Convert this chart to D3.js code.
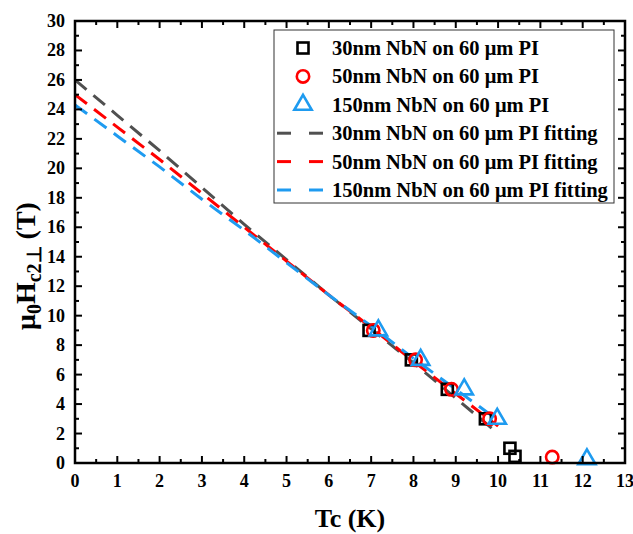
<!DOCTYPE html>
<html>
<head>
<meta charset="utf-8">
<script src="https://cdn.jsdelivr.net/npm/d3@7"></script>
<style>
  body { margin: 0; background: #fff; }
  text { font-family: "Liberation Serif", "Times New Roman", serif; font-weight: bold; }
</style>
</head>
<body>
<div class="container"></div>
<script>
const width = 633;
const height = 534;
const margin = { top: 21, right: 8, bottom: 71, left: 75 };

// measured points
const tc30 = [6.95, 7.95, 8.8, 9.7, 10.28, 10.4];
const h30 = [9, 7, 5, 3, 1, 0.45];
const tc50 = [7.05, 8.05, 8.9, 9.8, 11.28];
const h50 = [9, 7, 5, 3, 0.4];
const tc150 = [7.17, 8.17, 9.2, 9.98, 12.1];
const h150 = [9, 7, 5, 3, 0.25];

// fitting curves read at integer Tc
const fitT = [0, 1, 2, 3, 4, 5, 6, 7, 8, 9, 10];
const fit30 = [26, 23.6, 21.2, 18.7, 16.2, 13.8, 11.4, 9.1, 6.8, 4.4, 2.0];
const fit50 = [25, 22.8, 20.6, 18.3, 16.0, 13.7, 11.4, 9.2, 6.9, 4.7, 2.5];
const fit150 = [24.3, 22.2, 20.1, 17.9, 15.8, 13.6, 11.4, 9.3, 7.1, 5.0, 2.9];

const xTicks = d3.range(0, 14, 1);
const yTicks = d3.range(0, 31, 2);

const cBlack = '#000000';
const cGray = '#505050';
const cRed = '#ff0000';
const cBlue = '#1e9bf0';

const xScale = d3.scaleLinear().domain([0, 13]).range([margin.left, width - margin.right]);
const yScale = d3.scaleLinear().domain([0, 30]).range([height - margin.bottom, margin.top]);

const svg = d3.select('.container')
  .append('svg')
  .attr('width', width)
  .attr('height', height);

// fitting lines
const line = d3.line().x(d => xScale(d[0])).y(d => yScale(d[1]));
[[fit30, cGray], [fit50, cRed], [fit150, cBlue]].forEach(([vals, col]) => {
  svg.append('path')
    .datum(fitT.map((t, i) => [t, vals[i]]))
    .attr('d', line)
    .attr('fill', 'none')
    .attr('stroke', col)
    .attr('stroke-width', 3)
    .attr('stroke-dasharray', '15,9');
});

// markers
const triPath = d3.symbol().type(d3.symbolTriangle).size(130);
function drawSquare(g, x, y) {
  g.append('rect')
    .attr('x', x - 5.5).attr('y', y - 5.5)
    .attr('width', 11).attr('height', 11)
    .attr('fill', 'none').attr('stroke', cBlack).attr('stroke-width', 2.6);
}
function drawCircle(g, x, y) {
  g.append('circle')
    .attr('cx', x).attr('cy', y).attr('r', 6.2)
    .attr('fill', 'none').attr('stroke', cRed).attr('stroke-width', 2.6);
}
function drawTri(g, x, y) {
  g.append('path')
    .attr('d', triPath())
    .attr('transform', `translate(${x},${y})`)
    .attr('fill', 'none').attr('stroke', cBlue).attr('stroke-width', 2.6);
}

const marks = svg.append('g');
tc30.forEach((t, i) => drawSquare(marks, xScale(t), yScale(h30[i])));
tc50.forEach((t, i) => drawCircle(marks, xScale(t), yScale(h50[i])));
tc150.forEach((t, i) => drawTri(marks, xScale(t), yScale(h150[i])));

// axes with inward ticks on all four sides
const x0 = margin.left, x1 = width - margin.right;
const y0 = height - margin.bottom, y1 = margin.top;
const axes = svg.append('g').attr('stroke', '#000');

const xMinor = d3.range(0.5, 13, 1);
const yMinor = d3.range(1, 30, 2);
xTicks.forEach(t => {
  axes.append('line').attr('x1', xScale(t)).attr('x2', xScale(t)).attr('y1', y0).attr('y2', y0 - 7).attr('stroke-width', 2);
  axes.append('line').attr('x1', xScale(t)).attr('x2', xScale(t)).attr('y1', y1).attr('y2', y1 + 7).attr('stroke-width', 2);
});
xMinor.forEach(t => {
  axes.append('line').attr('x1', xScale(t)).attr('x2', xScale(t)).attr('y1', y0).attr('y2', y0 - 4).attr('stroke-width', 2);
  axes.append('line').attr('x1', xScale(t)).attr('x2', xScale(t)).attr('y1', y1).attr('y2', y1 + 4).attr('stroke-width', 2);
});
yTicks.forEach(v => {
  axes.append('line').attr('y1', yScale(v)).attr('y2', yScale(v)).attr('x1', x0).attr('x2', x0 + 7).attr('stroke-width', 2);
  axes.append('line').attr('y1', yScale(v)).attr('y2', yScale(v)).attr('x1', x1).attr('x2', x1 - 7).attr('stroke-width', 2);
});
yMinor.forEach(v => {
  axes.append('line').attr('y1', yScale(v)).attr('y2', yScale(v)).attr('x1', x0).attr('x2', x0 + 4).attr('stroke-width', 2);
  axes.append('line').attr('y1', yScale(v)).attr('y2', yScale(v)).attr('x1', x1).attr('x2', x1 - 4).attr('stroke-width', 2);
});
axes.append('rect')
  .attr('x', x0).attr('y', y1)
  .attr('width', x1 - x0).attr('height', y0 - y1)
  .attr('fill', 'none').attr('stroke-width', 2.5);

// tick labels
svg.append('g').selectAll('text')
  .data(xTicks).enter().append('text')
  .attr('x', d => xScale(d)).attr('y', y0 + 24)
  .attr('text-anchor', 'middle').attr('font-size', 18)
  .text(d => d);
svg.append('g').selectAll('text')
  .data(yTicks).enter().append('text')
  .attr('x', x0 - 10).attr('y', d => yScale(d) + 6)
  .attr('text-anchor', 'end').attr('font-size', 18)
  .text(d => d);

// axis titles
svg.append('text')
  .attr('x', (x0 + x1) / 2).attr('y', 527)
  .attr('text-anchor', 'middle').attr('font-size', 26)
  .text('Tc (K)');

const yl = svg.append('text')
  .attr('transform', `translate(35, 266) rotate(-90)`)
  .attr('text-anchor', 'middle').attr('font-size', 28);
yl.append('tspan').text('μ');
yl.append('tspan').attr('font-size', 20).attr('dy', 6).text('0');
yl.append('tspan').attr('dy', -6).text('H');
yl.append('tspan').attr('font-size', 20).attr('dy', 6).text('c2⊥');
yl.append('tspan').attr('dy', -6).text(' (T)');

// legend
const legendLabels = [
  '30nm NbN on 60 μm PI',
  '50nm NbN on 60 μm PI',
  '150nm NbN on 60 μm PI',
  '30nm NbN on 60 μm PI fitting',
  '50nm NbN on 60 μm PI fitting',
  '150nm NbN on 60 μm PI fitting'
];
const legendKinds = ['sq', 'ci', 'tr', cGray, cRed, cBlue];
const lg = svg.append('g');
lg.append('rect')
  .attr('x', 274).attr('y', 30).attr('width', 340).attr('height', 173)
  .attr('fill', '#fff').attr('stroke', '#333').attr('stroke-width', 1);
legendLabels.forEach((lab, i) => {
  const cy = 48 + i * 28.4;
  const k = legendKinds[i];
  if (k === 'sq') drawSquare(lg, 303, cy);
  else if (k === 'ci') drawCircle(lg, 303, cy);
  else if (k === 'tr') drawTri(lg, 303, cy);
  else {
    lg.append('line').attr('x1', 277).attr('x2', 291).attr('y1', cy).attr('y2', cy).attr('stroke', k).attr('stroke-width', 3);
    lg.append('line').attr('x1', 309).attr('x2', 323).attr('y1', cy).attr('y2', cy).attr('stroke', k).attr('stroke-width', 3);
  }
  lg.append('text')
    .attr('x', 332).attr('y', cy + 7)
    .attr('font-size', 20.5)
    .text(lab);
});
</script>
</body>
</html>
